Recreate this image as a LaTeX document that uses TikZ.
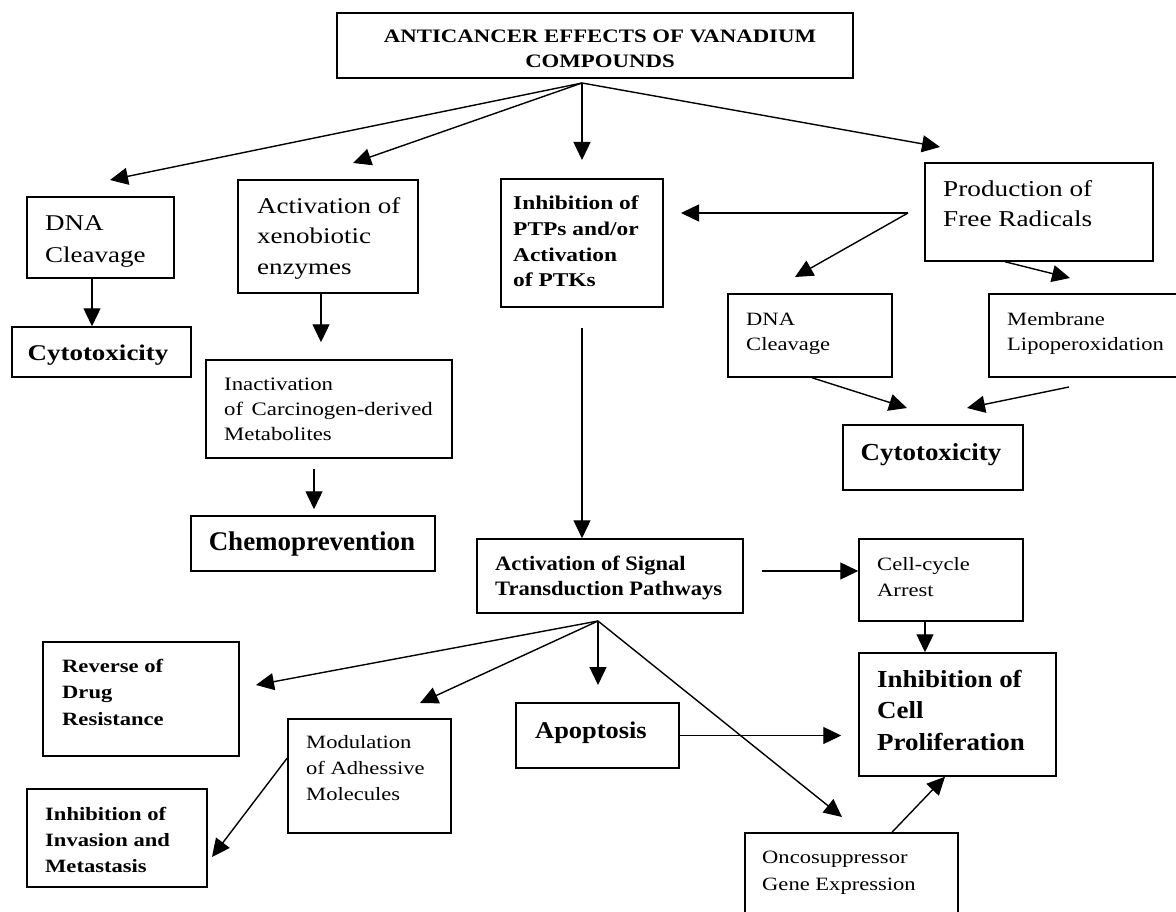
\documentclass[tikz,border=0pt]{standalone}
\usepackage{fontspec}
\setmainfont{Liberation Serif}
\newfontfamily\fa[FakeStretch=1.2]{Liberation Serif}
\newfontfamily\fb[FakeStretch=1.1]{Liberation Serif}
\newfontfamily\fc{Liberation Serif}
\usetikzlibrary{arrows.meta}
\newcommand\mkbox[5]{\node[box, minimum width={#4-#2}, minimum height={#5-#3}] (#1) at ({(#2+#4)/2},{(#3+#5)/2}) {};}
\begin{document}
\begin{tikzpicture}[x=1pt,y=-1pt,
  box/.style={draw, line width=1.5pt, inner sep=0pt, rectangle},
  txt/.style={inner sep=0pt, anchor=base west, align=left},
  ctxt/.style={inner sep=0pt, anchor=base, align=center},
  arr/.style={line width=1.4pt, -{Triangle[length=18pt,width=17pt]}},
  ln/.style={line width=1.4pt}]
\useasboundingbox[fill=white] (0,0) rectangle (1176,912);

% boxes
\mkbox{title}{337}{13}{853}{78}
\mkbox{dnaL}{27}{197}{174}{278}
\mkbox{cytoL}{12}{327}{191}{377}
\mkbox{xeno}{238}{180}{418}{293}
\mkbox{inact}{206}{360}{452}{458}
\mkbox{chemo}{191}{516}{435}{571}
\mkbox{ptp}{501}{179}{663}{307}
\mkbox{prod}{925}{163}{1153}{261}
\mkbox{dnaR}{728}{294}{892}{377}
\mkbox{memb}{989}{294}{1180}{377}
\mkbox{cytoR}{843}{425}{1023}{490}
\mkbox{signal}{477}{539}{743}{613}
\mkbox{cell}{859}{539}{1023}{621}
\mkbox{reverse}{43}{642}{239}{756}
\mkbox{modul}{288}{719}{451}{833}
\mkbox{apop}{516}{703}{679}{768}
\mkbox{inhib}{859}{653}{1056}{776}
\mkbox{invasion}{27}{789}{207}{887}
\mkbox{onco}{745}{833}{958}{916}

% texts (multi-line nodes are placed by the baseline of their last line)
\node[ctxt, font={\fa\bfseries\fontsize{19}{25}\selectfont}] (t-title) at (600,68) {ANTICANCER EFFECTS OF VANADIUM\\COMPOUNDS};
\node[txt, font={\fa\fontsize{22.5}{32}\selectfont}] (t-dnaL) at (45,262) {DNA\\Cleavage};
\node[txt, font={\fa\fontsize{22.5}{31}\selectfont}] (t-xeno) at (257,275) {Activation of\\xenobiotic\\enzymes};
\node[ctxt, font={\fa\bfseries\fontsize{22.5}{27}\selectfont}] (t-cytoL) at (98,360) {Cytotoxicity};
\node[txt, font={\fa\fontsize{19}{25}\selectfont}] (t-inact) at (224,440) {Inactivation\\of\hskip0.45em Carcinogen-derived\\Metabolites};
\node[ctxt, font={\fc\bfseries\fontsize{27}{32}\selectfont}] (t-chemo) at (312,550) {Chemoprevention};
\node[txt, font={\fa\bfseries\fontsize{19.5}{25.7}\selectfont}] (t-ptp) at (513,287) {Inhibition of\\PTPs and/or\\Activation\\of PTKs};
\node[txt, font={\fa\fontsize{22.7}{30}\selectfont}] (t-prod) at (943,227) {Production of\\Free Radicals};
\node[txt, font={\fa\fontsize{18.8}{25}\selectfont}] (t-dnaR) at (746,350) {DNA\\Cleavage};
\node[txt, font={\fa\fontsize{18.8}{25}\selectfont}] (t-memb) at (1007,350) {Membrane\\Lipoperoxidation};
\node[ctxt, font={\fb\bfseries\fontsize{24.5}{29}\selectfont}] (t-cytoR) at (931,460) {Cytotoxicity};
\node[txt, font={\fb\bfseries\fontsize{20.5}{25}\selectfont}] (t-signal) at (495,595) {Activation of Signal\\Transduction Pathways};
\node[txt, font={\fa\fontsize{18.8}{26}\selectfont}] (t-cell) at (877,596) {Cell-cycle\\Arrest};
\node[txt, font={\fb\bfseries\fontsize{24.5}{31.5}\selectfont}] (t-inhib) at (877,750) {Inhibition of\\Cell\\Proliferation};
\node[txt, font={\fa\bfseries\fontsize{18.8}{26.5}\selectfont}] (t-reverse) at (62,725) {Reverse of\\Drug\\Resistance};
\node[txt, font={\fa\bfseries\fontsize{18.8}{26}\selectfont}] (t-invasion) at (45,872) {Inhibition of\\Invasion and\\Metastasis};
\node[txt, font={\fa\fontsize{18.8}{26}\selectfont}] (t-modul) at (306,800) {Modulation\\of Adhessive\\Molecules};
\node[txt, font={\fb\bfseries\fontsize{24}{29}\selectfont}] (t-apop) at (535,738) {Apoptosis};
\node[txt, font={\fa\fontsize{18.8}{27}\selectfont}] (t-onco) at (762,890) {Oncosuppressor\\Gene Expression};

% free connector ends
\coordinate (hubA) at (582,83);
\coordinate (tipA1) at (110,180);
\coordinate (tipA2) at (353,163);
\coordinate (tipA3) at (582,160);
\coordinate (tipA4) at (940,147);
\coordinate (fork) at (908,213);
\coordinate (tipF1) at (681,213);
\coordinate (tipF2) at (795,277);
\coordinate (tipPM) at (1070,278);
\coordinate (tipDC) at (907,408);
\coordinate (startMC) at (1069,387);
\coordinate (tipMC) at (967,408);
\coordinate (hubB) at (598,621);
\coordinate (tipB1) at (256,685);
\coordinate (tipB2) at (420,703);
\coordinate (tipB3) at (598,685);
\coordinate (tipB4) at (842,817);
\coordinate (tipMI) at (212,857);

% connectors from the title
\draw[arr] (hubA) -- (tipA1);
\draw[arr] (hubA) -- (tipA2);
\draw[arr] (hubA) -- (tipA3);
\draw[arr] (hubA) -- (tipA4);

% left column
\draw[arr] ([xshift=-8.5]dnaL.south) -- ([xshift=-8.5]dnaL.south |- cytoL.north);
\draw[arr, shorten >=17pt] ([xshift=-7]xeno.south) -- ([xshift=-7]xeno.south |- inact.north);
\draw[arr, shorten <=10pt, shorten >=6pt] ([xshift=-15]inact.south) -- ([xshift=-15]inact.south |- chemo.north);

% free radicals
\draw[arr] (fork) -- (tipF1);
\draw[arr] (fork) -- (tipF2);
\draw[arr] ([xshift=-34]prod.south) -- (tipPM);
\draw[arr] ([xshift=2]dnaR.south) -- (tipDC);
\draw[arr] (startMC) -- (tipMC);

% PTP to signal
\draw[arr, shorten <=20pt] (ptp.south) -- (ptp.south |- signal.north);
\draw[arr, shorten <=18pt] ([yshift=5]signal.east) -- ([yshift=5]signal.east -| cell.west);
\draw[arr] ([xshift=-16]cell.south) -- ([xshift=-16]cell.south |- inhib.north);

% signal hub
\draw[arr] (hubB) -- (tipB1);
\draw[arr] (hubB) -- (tipB2);
\draw[arr] (hubB) -- (tipB3);
\draw[arr] (hubB) -- (tipB4);
\draw[arr, shorten >=17pt] (apop.east) -- (apop.east -| inhib.west);
\draw[arr] ([yshift=18]modul.west) -- (tipMI);
\draw[arr] ([xshift=40.5]onco.north) -- ([xshift=-12.5]inhib.south);
\end{tikzpicture}
\end{document}
